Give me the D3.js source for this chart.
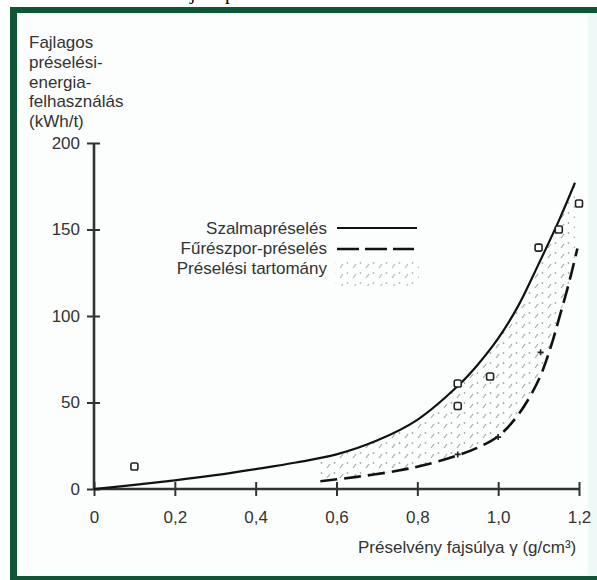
<!DOCTYPE html>
<html>
<head>
<meta charset="utf-8">
<script src="https://cdn.jsdelivr.net/npm/d3@7"></script>
<style>
  body { margin: 0; background: #fff; }
  text { font-family: "Liberation Sans", Arial, sans-serif; fill: #333; }
</style>
</head>
<body>
<div id="chart"></div>
<script>
// Fajlagos préselési energia - szalma vs. fűrészpor

var width = 597;
var height = 580;

// data
var xTicks = [0, 0.2, 0.4, 0.6, 0.8, 1.0, 1.2];
var yTicks = [0, 50, 100, 150, 200];

var strawX = [0, 0.1, 0.2, 0.3, 0.4, 0.5, 0.6, 0.7, 0.8, 0.9, 0.95, 1.0, 1.05, 1.1, 1.15, 1.19];
var strawY = [0, 2.4, 5, 8, 11.5, 15.3, 20, 28, 40, 59.5, 72, 87, 106, 130, 155, 177];

var sawX = [0.56, 0.65, 0.75, 0.82, 0.9, 0.95, 1.0, 1.05, 1.1, 1.13, 1.15, 1.175, 1.196];
var sawY = [4.5, 7, 10.5, 14, 19.5, 24, 30.5, 43, 63, 82, 98, 119, 139];

var strawObsX = [0.1, 0.9, 0.9, 0.98, 1.1, 1.15, 1.2];
var strawObsY = [13, 61, 48, 65, 139.5, 150, 165];

var sawObsX = [0.9, 1.0, 1.105];
var sawObsY = [20, 30, 79];

var legendLabels = ["Szalmapréselés", "Fűrészpor-préselés", "Préselési tartomány"];
var yTitle = ["Fajlagos", "préselési-", "energia-", "felhasználás", "(kWh/t)"];

var svg = d3.select("#chart")
    .append("svg")
    .attr("width", width)
    .attr("height", height);

// frame
svg.append("rect").attr("width", width).attr("height", height).attr("fill", "#fff");
svg.append("rect").attr("x", 10).attr("y", 7).attr("width", 587).attr("height", 573).attr("fill", "#fbfefd");
svg.append("rect").attr("x", 588).attr("y", 13).attr("width", 9).attr("height", 563).attr("fill", "#eef8f7");
svg.append("rect").attr("x", 10).attr("y", 7).attr("width", 587).attr("height", 6).attr("fill", "#0d5736");
svg.append("rect").attr("x", 10).attr("y", 7).attr("width", 7).attr("height", 573).attr("fill", "#0d5736");
svg.append("rect").attr("x", 10).attr("y", 576).attr("width", 587).attr("height", 4).attr("fill", "#0d5736");

// cut off caption above the frame (only descenders visible, as in the scan)
svg.append("text")
    .attr("y", -1)
    .style("font-family", "'Liberation Serif', serif")
    .style("font-size", "20px")
    .style("fill", "#000")
    .selectAll("tspan")
    .data([["j", 190], ["p", 225]])
    .enter().append("tspan")
    .attr("x", function(d) { return d[1]; })
    .text(function(d) { return d[0]; });

var x = d3.scaleLinear().domain([0, 1.2]).range([94, 579]);
var y = d3.scaleLinear().domain([0, 200]).range([489, 143]);

var fmt = d3.formatLocale({ decimal: ",", thousands: " ", grouping: [3], currency: ["", ""] }).format(".1f");

// band pattern
var defs = svg.append("defs");
var pat = defs.append("pattern")
    .attr("id", "stipple")
    .attr("patternUnits", "userSpaceOnUse")
    .attr("width", 13)
    .attr("height", 10);
pat.append("line").attr("x1", 2).attr("y1", 8).attr("x2", 5).attr("y2", 4)
    .attr("stroke", "#a8a8a8").attr("stroke-width", 1.2);
pat.append("circle").attr("cx", 9.5).attr("cy", 3).attr("r", 0.9).attr("fill", "#a8a8a8");

var strawPts = strawX.map(function(d, i) { return [d, strawY[i]]; });
var sawPts = sawX.map(function(d, i) { return [d, sawY[i]]; });

var smooth = d3.curveCatmullRom.alpha(0.5);

defs.append("clipPath").attr("id", "aboveSaw")
    .append("path")
    .attr("d", d3.area()
        .x(function(d) { return x(d[0]); })
        .y0(0)
        .y1(function(d) { return y(d[1]); })
        .curve(smooth)(sawPts));

svg.append("path")
    .attr("clip-path", "url(#aboveSaw)")
    .attr("fill", "url(#stipple)")
    .attr("d", d3.area()
        .x(function(d) { return x(d[0]); })
        .y0(y(0))
        .y1(function(d) { return y(d[1]); })
        .curve(smooth)(strawPts));

// axes
var xAxis = svg.append("g")
    .attr("transform", "translate(0," + y(0) + ")")
    .call(d3.axisBottom(x).tickValues(xTicks).tickSize(7).tickPadding(15)
        .tickFormat(function(d) { return d === 0 ? "0" : fmt(d); }));
xAxis.select(".domain").attr("d", "M" + x(0) + ",0H" + x(1.2)).attr("stroke", "#333").attr("stroke-width", 2.6);
xAxis.selectAll(".tick line").attr("y1", -7).attr("stroke", "#333").attr("stroke-width", 2);
xAxis.selectAll(".tick text").style("font-size", "17px").attr("fill", "#333")
    .style("font-family", "'Liberation Sans', Arial, sans-serif");

var yAxis = svg.append("g")
    .attr("transform", "translate(" + x(0) + ",0)")
    .call(d3.axisLeft(y).tickValues(yTicks).tickSize(7).tickPadding(7));
yAxis.select(".domain").attr("d", "M0," + y(0) + "V" + y(200)).attr("stroke", "#333").attr("stroke-width", 2.6);
yAxis.selectAll(".tick line").attr("x1", -7).attr("x2", 6).attr("stroke", "#333").attr("stroke-width", 2);
yAxis.selectAll(".tick text").style("font-size", "17px").attr("fill", "#333")
    .style("font-family", "'Liberation Sans', Arial, sans-serif");

// curves
var line = d3.line()
    .x(function(d) { return x(d[0]); })
    .y(function(d) { return y(d[1]); })
    .curve(smooth);

svg.append("path")
    .attr("d", line(strawPts))
    .attr("fill", "none")
    .attr("stroke", "#111")
    .attr("stroke-width", 2.2);

svg.append("path")
    .attr("d", line(sawPts))
    .attr("fill", "none")
    .attr("stroke", "#111")
    .attr("stroke-width", 2.6)
    .attr("stroke-dasharray", "17,7");

// observations
svg.selectAll(".sq")
    .data(strawObsX)
    .enter().append("rect")
    .attr("class", "sq")
    .attr("x", function(d) { return x(d) - 3.5; })
    .attr("y", function(d, i) { return y(strawObsY[i]) - 3.5; })
    .attr("width", 7)
    .attr("height", 7)
    .attr("rx", 1.8)
    .attr("fill", "#fff")
    .attr("stroke", "#222")
    .attr("stroke-width", 1.6);

svg.selectAll(".plus")
    .data(sawObsX)
    .enter().append("path")
    .attr("class", "plus")
    .attr("d", function(d, i) {
        var cx = x(d), cy = y(sawObsY[i]);
        return "M" + (cx - 3) + "," + cy + "H" + (cx + 3) + "M" + cx + "," + (cy - 3) + "V" + (cy + 3);
    })
    .attr("stroke", "#222")
    .attr("stroke-width", 1.6);

// legend
var legend = svg.append("g");
legend.selectAll("text")
    .data(legendLabels)
    .enter().append("text")
    .attr("x", 327)
    .attr("y", function(d, i) { return 234 + i * 20; })
    .attr("text-anchor", "end")
    .style("font-size", "17px")
    .text(function(d) { return d; });

legend.append("line").attr("x1", 337).attr("x2", 417).attr("y1", 228).attr("y2", 228)
    .attr("stroke", "#111").attr("stroke-width", 2.2);
legend.append("line").attr("x1", 337).attr("x2", 414).attr("y1", 249).attr("y2", 249)
    .attr("stroke", "#111").attr("stroke-width", 2.6).attr("stroke-dasharray", "22,6");
legend.append("rect").attr("x", 335).attr("y", 262).attr("width", 84).attr("height", 24)
    .attr("fill", "url(#stipple)").attr("opacity", 0.8);

// axis titles
svg.append("text")
    .style("font-size", "17px")
    .selectAll("tspan")
    .data(yTitle)
    .enter().append("tspan")
    .attr("x", 29)
    .attr("y", function(d, i) { return 48 + i * 19.8; })
    .text(function(d) { return d; });

svg.append("text")
    .attr("x", 358)
    .attr("y", 553)
    .style("font-size", "17px")
    .text("Préselvény fajsúlya  γ (g/cm³)");
</script>
</body>
</html>
